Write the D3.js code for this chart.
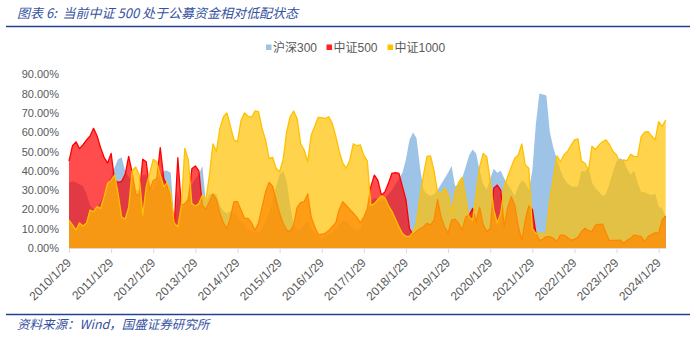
<!DOCTYPE html>
<html>
<head>
<meta charset="utf-8">
<script src="https://cdn.jsdelivr.net/npm/d3@7"></script>
<style>
  body { margin: 0; background: #ffffff; }
  svg { display: block; }
</style>
</head>
<body>
<svg id="chart" width="700" height="338"></svg>
<script>
// Monthly observations, 2010/1 – 2024/3 (171 months), share in percent
const firstYear = 2010;
const monthCount = 171;

// 沪深300
const hs300 = [
  34, 34.5, 34, 33, 32, 28, 22, 20, 21, 24,
  28, 33, 37, 42, 46, 47, 40, 37, 35, 30,
  30, 38, 38, 32, 30, 36, 38, 40, 40, 39,
  12, 30, 20, 22, 28, 33, 36, 38, 42.5, 24,
  28, 28, 28, 22, 19, 18, 19, 18, 17, 14,
  12, 10, 9, 8, 8, 10, 14, 18, 25, 32,
  38, 40, 35, 22, 12, 10, 10, 12, 14, 10,
  8, 6, 5, 6, 7, 8, 10, 12, 14, 14,
  12, 10, 9, 10, 15, 20, 24, 26, 25, 24,
  26, 28, 30, 33, 36, 39, 46, 56, 59.8, 57,
  42, 30, 28, 27, 28, 30, 33, 36, 39, 42.5,
  32, 33, 36, 42, 48, 51, 49, 40, 33, 30,
  36, 41, 39, 40, 36, 33, 30, 27, 32, 35,
  34, 30, 40, 64, 80, 79.5, 79, 60, 52, 46,
  40.4, 36, 33.5, 32, 31.8, 32, 40, 39.5, 42, 34,
  31, 29, 27, 28, 33.5, 39.5, 45, 46.5, 45.6, 41,
  38, 40, 34, 29, 29, 28, 27.5, 28.3, 21.4, 20.5, 16
];

// 中证500
const zz500 = [
  45, 53, 55, 51.5, 53.5, 56, 58, 62, 58, 52,
  47, 44, 49, 35, 34, 34.5, 38, 47.5, 39, 28,
  27, 46, 44.7, 30, 35, 36, 52, 36, 32, 26,
  12, 46.8, 22, 23, 25, 41, 42.5, 40, 22, 20,
  24, 28, 25, 18, 13, 10, 16, 24, 24, 19.7,
  15.4, 15.4, 13, 9, 13, 21, 29, 34, 32, 25,
  18, 12.8, 9.3, 8.5, 12, 21, 23.5, 24, 28, 16,
  11, 7, 7, 7.6, 9, 11, 13, 20, 24, 22,
  20, 18, 16, 13, 16, 20.5, 31.8, 37.8, 35, 27.5,
  29, 33.5, 38.7, 39, 38.7, 31.8, 24.9, 10, 7, 8.5,
  10, 11, 12.8, 12, 14.5, 25, 16, 11, 7.6, 14.5,
  15, 12.8, 9.3, 16, 17, 20.5, 13.6, 21, 12, 8.5,
  10, 31, 32.6, 30, 11, 21, 26.6, 22, 11, 4,
  14.5, 21.8, 20, 8, 4, 4.5, 5.9, 5.9, 5, 3.3,
  6.7, 6.7, 5.5, 4, 4.5, 5.5, 8.5, 10.2, 9, 8.5,
  11.9, 12.2, 12.4, 7.6, 3.8, 4, 4, 4.1, 2.4, 4,
  5, 6.7, 6.3, 5.9, 3.3, 5.9, 7, 7.9, 7.6, 14.5, 16.6
];

// 中证1000
const zz1000 = [
  14.5, 12, 9.3, 13, 11.4, 13, 19.7, 18.8, 21.4, 20.5,
  26.6, 33.5, 35, 37.8, 28, 16, 15, 21, 40, 42,
  38, 17, 31.8, 38.7, 46, 44.7, 37.8, 31.8, 34, 28,
  12.8, 11, 22, 51.6, 45.6, 23, 21.8, 23, 27.5, 25,
  37.8, 54, 50, 62, 68, 70, 63, 56, 55, 66,
  70, 68.4, 67.7, 71, 70.6, 62, 56, 46.5, 47, 41.3,
  39.5, 45.6, 60, 68, 71, 67, 54, 50.8, 44.7, 58.5,
  63, 67.7, 67.5, 67, 68, 64.6, 58, 50, 44, 41.3,
  45.6, 54, 53, 53.4, 48, 45, 22, 23, 25, 27,
  26, 22, 19, 15, 11, 7.5, 6, 6, 8, 13,
  26, 38, 47.5, 47.7, 40, 29, 28, 31, 28, 18,
  29, 34, 36.6, 26, 16, 14.5, 28, 42, 49, 47.3,
  35, 20, 13, 18, 32, 37, 42, 46.5, 48.2, 53.9,
  43, 41.3, 10, 7.6, 7.6, 7.6, 7.6, 24.9, 36, 47.7,
  44.7, 48.2, 50, 53, 56, 56.5, 45, 43.9, 40.4, 52.8,
  51, 53.4, 55, 56, 53.5, 50, 48.2, 43.9, 45.6, 45.3,
  48.5, 47.5, 47.3, 57.7, 60, 60.3, 58, 56, 65.5, 63, 66.3
];

const seriesNames = ["沪深300", "中证500", "中证1000"];
const yTicks = [0, 10, 20, 30, 40, 50, 60, 70, 80, 90];
const xTickLabels = [
  "2010/1/29", "2011/1/29", "2012/1/29", "2013/1/29", "2014/1/29",
  "2015/1/29", "2016/1/29", "2017/1/29", "2018/1/29", "2019/1/29",
  "2020/1/29", "2021/1/29", "2022/1/29", "2023/1/29", "2024/1/29"
];
const titleText = "图表 6:  当前中证 500 处于公募资金相对低配状态";
const sourceText = "资料来源：Wind，国盛证券研究所";

// month categories, labelled as the 29th of each month
const categories = d3.range(monthCount).map(i =>
  `${firstYear + Math.floor(i / 12)}/${(i % 12) + 1}/29`);

const svg = d3.select("#chart");
const latin = "'Liberation Sans', Arial, 'Noto Sans CJK SC', sans-serif";
const cjk = "'Noto Sans CJK SC', 'Liberation Sans', sans-serif";
const navy = "#24418f";

const plot = { left: 69, right: 665.7, top: 74.3, bottom: 248 };

const x = d3.scalePoint().domain(categories).range([plot.left, plot.right]);
const y = d3.scaleLinear().domain([0, 90]).range([plot.bottom, plot.top]);

// header
svg.append("text")
  .attr("x", 17).attr("y", 17.5)
  .attr("font-family", cjk).attr("font-size", 13).attr("font-style", "italic")
  .attr("fill", "#3552a0").attr("xml:space", "preserve")
  .text(titleText);
svg.append("line")
  .attr("x1", 6).attr("x2", 690).attr("y1", 26.5).attr("y2", 26.5)
  .attr("stroke", navy).attr("stroke-width", 1.6);

// footer
svg.append("line")
  .attr("x1", 6).attr("x2", 690).attr("y1", 314.5).attr("y2", 314.5)
  .attr("stroke", navy).attr("stroke-width", 1.6);
svg.append("text")
  .attr("x", 17).attr("y", 328.5)
  .attr("font-family", cjk).attr("font-size", 12.5).attr("font-style", "italic")
  .attr("fill", "#3552a0")
  .text(sourceText);

// areas, drawn back to front
const series = [
  { name: seriesNames[0], values: hs300, fill: "#9dc3e6", opacity: 1, stroke: null },
  { name: seriesNames[1], values: zz500, fill: "#ff0000", opacity: 0.7, stroke: "#ff0000" },
  { name: seriesNames[2], values: zz1000, fill: "#ffc000", opacity: 0.7, stroke: "#ffc000" }
];

const area = d3.area()
  .x((d, i) => x(categories[i]))
  .y0(y(0))
  .y1(d => y(d));
const line = d3.line()
  .x((d, i) => x(categories[i]))
  .y(d => y(d));

const layers = svg.append("g");
series.forEach(s => {
  layers.append("path")
    .attr("d", area(s.values))
    .attr("fill", s.fill)
    .attr("fill-opacity", s.opacity);
  if (s.stroke) {
    layers.append("path")
      .attr("d", line(s.values))
      .attr("fill", "none")
      .attr("stroke", s.stroke)
      .attr("stroke-width", 1.3)
      .attr("stroke-linejoin", "round");
  }
});

// x axis
const janCats = categories.filter((c, i) => i % 12 === 0);
const xAxis = svg.append("g")
  .attr("transform", `translate(0,${plot.bottom})`)
  .call(d3.axisBottom(x)
    .tickValues(janCats)
    .tickFormat((d, i) => xTickLabels[i])
    .tickSize(5)
    .tickSizeOuter(0));
xAxis.select(".domain").attr("stroke", "#d9d9d9");
xAxis.selectAll(".tick line").attr("stroke", "#d9d9d9");
xAxis.selectAll(".tick text")
  .attr("x", 0).attr("y", 0).attr("dy", 0)
  .attr("transform", "translate(2.5,15.5) rotate(-45)")
  .attr("text-anchor", "end")
  .attr("font-family", latin).attr("font-size", 12)
  .attr("fill", "#595959");

// y axis
const yAxis = svg.append("g")
  .attr("transform", `translate(${plot.left},0)`)
  .call(d3.axisLeft(y)
    .tickValues(yTicks)
    .tickFormat(d => d3.format(".2f")(d) + "%")
    .tickSize(0)
    .tickPadding(10));
yAxis.select(".domain").remove();
yAxis.selectAll(".tick text")
  .attr("font-family", latin).attr("font-size", 11)
  .attr("fill", "#595959");

// legend
const legendItems = [
  { name: seriesNames[0], color: "#9dc3e6", x: 266 },
  { name: seriesNames[1], color: "#ff2020", x: 326.5 },
  { name: seriesNames[2], color: "#ffc000", x: 387.5 }
];
const legend = svg.append("g");
legendItems.forEach(it => {
  legend.append("rect")
    .attr("x", it.x).attr("y", 44.5).attr("width", 5.5).attr("height", 5.5)
    .attr("fill", it.color);
  legend.append("text")
    .attr("x", it.x + 7).attr("y", 51.5)
    .attr("font-family", latin).attr("font-size", 12)
    .attr("fill", "#595959")
    .text(it.name);
});
</script>
</body>
</html>
